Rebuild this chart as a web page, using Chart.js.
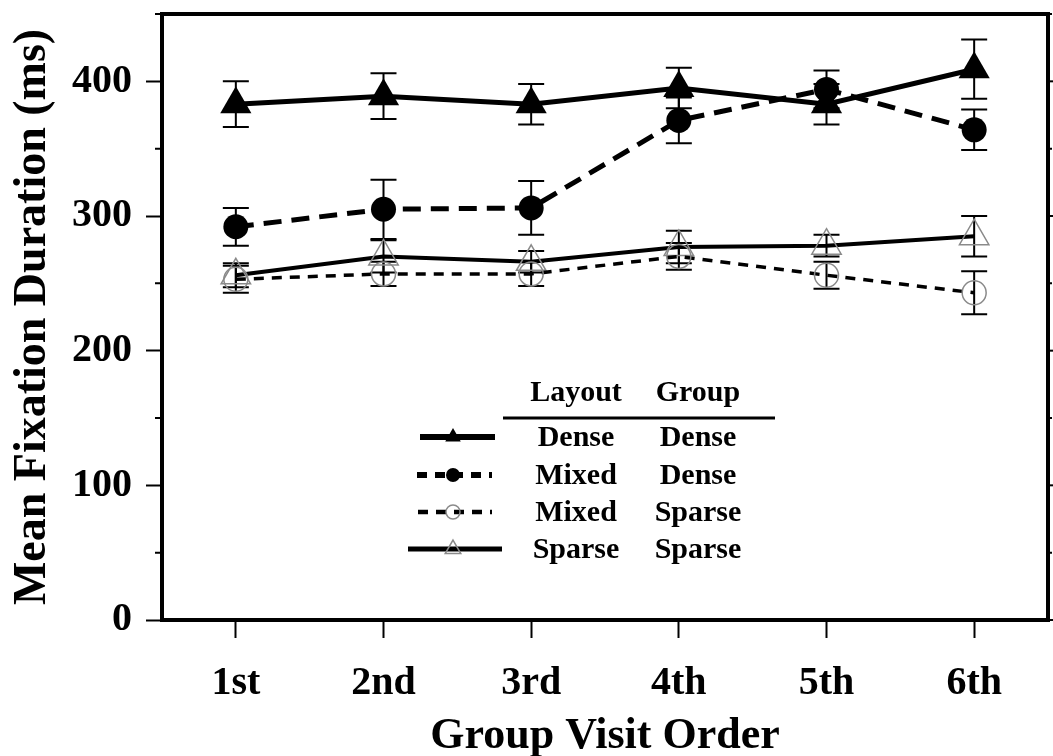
<!DOCTYPE html>
<html>
<head>
<meta charset="utf-8">
<script src="https://cdn.jsdelivr.net/npm/chart.js@4.4.1/dist/chart.umd.min.js"></script>
<style>
  html, body { margin: 0; padding: 0; background: #fff; }
  #c { display: block; }
</style>
</head>
<body>
<canvas id="c" width="1053" height="756"></canvas>
<script>
const FONT = '"Liberation Serif", "Times New Roman", serif';

const visitLabels = ['1st', '2nd', '3rd', '4th', '5th', '6th'];
const yTicks = [0, 100, 200, 300, 400];

// layout / group
const denseDense     = [383, 389, 383, 395, 383, 409];
const denseDenseErr  = [17, 17, 15, 15, 15, 22];
const mixedDense     = [292, 305, 306, 371, 394, 364];
const mixedDenseErr  = [14, 22, 20, 17, 14, 15];
const mixedSparse    = [253, 257, 257, 270, 256, 243];
const mixedSparseErr = [10, 9, 9, 10, 10, 16];
const sparseSparse   = [256, 270, 266, 277, 278, 285];
const sparseSparseErr = [9, 12, 8, 12, 8, 15];

const legendLayout = ['Dense', 'Mixed', 'Mixed', 'Sparse'];
const legendGroup  = ['Dense', 'Dense', 'Sparse', 'Sparse'];

const GREY = '#8a8a8a';

const datasets = [
    {
        label: 'Dense / Dense', data: denseDense, err: denseDenseErr,
        borderColor: '#000', borderWidth: 5,
        pointStyle: 'triangle', pointRadius: 18, pointBackgroundColor: '#000', pointBorderWidth: 0,
    },
    {
        label: 'Mixed / Dense', data: mixedDense, err: mixedDenseErr,
        borderColor: '#000', borderWidth: 5, borderDash: [18, 10],
        pointStyle: 'circle', pointRadius: 12.5, pointBackgroundColor: '#000', pointBorderWidth: 0,
    },
    {
        label: 'Mixed / Sparse', data: mixedSparse, err: mixedSparseErr,
        borderColor: '#000', borderWidth: 3.5, borderDash: [10, 8],
        pointStyle: 'circle', pointRadius: 12, pointBackgroundColor: 'rgba(0,0,0,0)',
        pointBorderColor: GREY, pointBorderWidth: 1.5,
    },
    {
        label: 'Sparse / Sparse', data: sparseSparse, err: sparseSparseErr,
        borderColor: '#000', borderWidth: 4,
        pointStyle: 'triangle', pointRadius: 17, pointBackgroundColor: 'rgba(0,0,0,0)',
        pointBorderColor: GREY, pointBorderWidth: 1.5,
    },
];

// error bars under the lines and markers
const errorBars = {
    id: 'errorBars',
    beforeDatasetsDraw(chart) {
        const { ctx, scales: { x, y } } = chart;
        ctx.save();
        ctx.strokeStyle = '#000';
        ctx.lineWidth = 2;
        chart.data.datasets.forEach(ds => {
            ds.data.forEach((v, i) => {
                const px = x.getPixelForValue(i);
                const top = y.getPixelForValue(v + ds.err[i]);
                const bot = y.getPixelForValue(v - ds.err[i]);
                ctx.beginPath();
                ctx.moveTo(px, top); ctx.lineTo(px, bot);
                ctx.moveTo(px - 13, top); ctx.lineTo(px + 13, top);
                ctx.moveTo(px - 13, bot); ctx.lineTo(px + 13, bot);
                ctx.stroke();
            });
        });
        ctx.restore();
    },
};

// box, minor ticks, right-hand ticks and the table legend
const frameAndLegend = {
    id: 'frameAndLegend',
    afterDraw(chart) {
        const { ctx, chartArea: a, scales: { y } } = chart;
        ctx.save();
        ctx.strokeStyle = '#000';
        ctx.lineWidth = 4;
        ctx.strokeRect(a.left, a.top, a.right - a.left, a.bottom - a.top);

        ctx.lineWidth = 2;
        for (let v = 50; v <= 450; v += 100) {
            const py = y.getPixelForValue(v);
            ctx.beginPath();
            ctx.moveTo(a.left - 7, py); ctx.lineTo(a.left, py);
            ctx.moveTo(a.right, py); ctx.lineTo(a.right + 4, py);
            ctx.stroke();
        }
        yTicks.forEach(v => {
            const py = y.getPixelForValue(v);
            ctx.beginPath();
            ctx.moveTo(a.right, py); ctx.lineTo(a.right + 8, py);
            ctx.stroke();
        });

        // legend table
        const colA = 576, colB = 698;
        ctx.fillStyle = '#000';
        ctx.font = 'bold 30px ' + FONT;
        ctx.textAlign = 'center';
        ctx.textBaseline = 'middle';
        ctx.fillText('Layout', colA, 393);
        ctx.fillText('Group', colB, 393);
        ctx.lineWidth = 3;
        ctx.beginPath();
        ctx.moveTo(503, 418); ctx.lineTo(775, 418);
        ctx.stroke();

        const rowY = [438, 476, 513, 550];
        const sampleX = [[420, 495], [417, 492], [418, 492], [408, 502]];
        legendLayout.forEach((txt, i) => {
            ctx.fillStyle = '#000';
            ctx.fillText(txt, colA, rowY[i]);
            ctx.fillText(legendGroup[i], colB, rowY[i]);

            const ds = datasets[i];
            const ly = rowY[i] - 1;
            ctx.save();
            ctx.strokeStyle = ds.borderColor;
            ctx.lineWidth = ds.borderWidth + 1;
            ctx.setLineDash(ds.borderDash ? [10, 8] : []);
            ctx.beginPath();
            ctx.moveTo(sampleX[i][0], ly); ctx.lineTo(sampleX[i][1], ly);
            ctx.stroke();
            ctx.restore();

            ctx.save();
            ctx.fillStyle = ds.pointBackgroundColor;
            ctx.strokeStyle = ds.pointBorderColor || '#000';
            ctx.lineWidth = ds.pointBorderWidth || 0;
            Chart.helpers.drawPoint(ctx, {
                pointStyle: ds.pointStyle,
                radius: ds.pointStyle === 'triangle' ? 9 : 7,
                rotation: 0,
                borderWidth: ds.pointBorderWidth || 0,
            }, 453, ly);
            ctx.restore();
        });
        ctx.restore();
    },
};

new Chart(document.getElementById('c'), {
    type: 'line',
    data: { labels: visitLabels, datasets },
    options: {
        responsive: false,
        animation: false,
        devicePixelRatio: 1,
        layout: { autoPadding: false, padding: { top: 14, right: 5, left: 0, bottom: 0 } },
        plugins: { legend: { display: false }, tooltip: { enabled: false } },
        elements: { line: { tension: 0 } },
        scales: {
            x: {
                type: 'category',
                offset: true,
                afterFit: s => { s.height = 136; s.paddingLeft = 0; s.paddingRight = 0; },
                border: { display: true, width: 4, color: '#000' },
                grid: { offset: false, drawOnChartArea: false, drawTicks: true, tickLength: 18, tickWidth: 2, color: '#000' },
                ticks: { color: '#000', padding: 22, font: { family: FONT, size: 40, weight: 'bold' } },
                title: {
                    display: true, text: 'Group Visit Order', color: '#000',
                    font: { family: FONT, size: 44, weight: 'bold', lineHeight: 0.9 },
                    padding: { top: 0, bottom: 0 },
                },
            },
            y: {
                min: 0, max: 450,
                afterBuildTicks: s => { s.ticks = yTicks.map(v => ({ value: v })); },
                afterFit: s => { s.width = 162; s.paddingTop = 0; s.paddingBottom = 0; },
                border: { display: true, width: 4, color: '#000' },
                grid: { drawOnChartArea: false, drawTicks: true, tickLength: 16, tickWidth: 2, color: '#000' },
                ticks: { color: '#000', padding: 14, font: { family: FONT, size: 40, weight: 'bold' } },
                title: {
                    display: true, text: 'Mean Fixation Duration (ms)', color: '#000',
                    font: { family: FONT, size: 46, weight: 'bold', lineHeight: 1 },
                    padding: { top: 10, bottom: 0 },
                },
            },
        },
    },
    plugins: [errorBars, frameAndLegend],
});
</script>
</body>
</html>
